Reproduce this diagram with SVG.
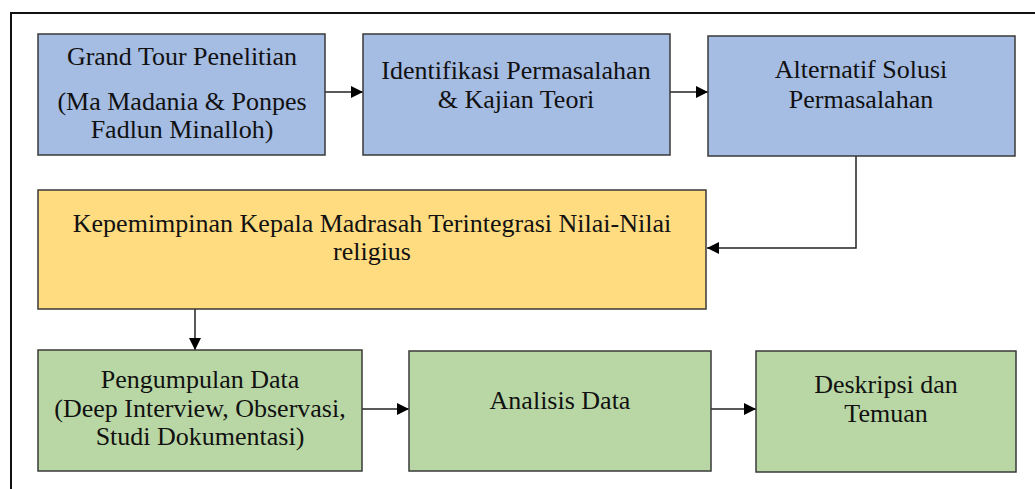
<svg xmlns="http://www.w3.org/2000/svg" width="1035" height="489" viewBox="0 0 1035 489">
<style>
.t{font-family:"Liberation Serif","Times New Roman",serif;font-size:26px;fill:#111;text-anchor:middle}
.b{fill:#A5BCE3;stroke:#3a3a3a;stroke-width:1.5}
.y{fill:#FFDC80;stroke:#3a3a3a;stroke-width:1.5}
.g{fill:#B9D7A5;stroke:#3a3a3a;stroke-width:1.5}
.c{fill:none;stroke:#222;stroke-width:1.5}
</style>
<defs>
<marker id="ah" markerWidth="12" markerHeight="12" viewBox="0 0 12 12" refX="12" refY="6" orient="auto" markerUnits="userSpaceOnUse">
<path d="M0,0 L12,6 L0,12 Z" fill="#000"/>
</marker>
</defs>
<rect x="11" y="13" width="1040" height="500" fill="#fff" stroke="#111" stroke-width="2"/>
<g id="connectors">
<line class="c" x1="325" y1="92" x2="363" y2="92" marker-end="url(#ah)"/>
<line class="c" x1="670" y1="92" x2="708" y2="92" marker-end="url(#ah)"/>
<polyline class="c" points="856,156 856,248 707,248" marker-end="url(#ah)"/>
<line class="c" x1="195" y1="309" x2="195" y2="350" marker-end="url(#ah)"/>
<line class="c" x1="362" y1="409" x2="409" y2="409" marker-end="url(#ah)"/>
<line class="c" x1="711" y1="409" x2="756" y2="409" marker-end="url(#ah)"/>
</g>
<g id="n1">
<rect class="b" x="38" y="34" width="287" height="121"/>
<text class="t" x="182" y="65">Grand Tour Penelitian</text>
<text class="t" x="182" y="110">(Ma Madania &amp; Ponpes</text>
<text class="t" x="182" y="138">Fadlun Minalloh)</text>
</g>
<g id="n2">
<rect class="b" x="363" y="34" width="307" height="121"/>
<text class="t" x="516" y="79">Identifikasi Permasalahan</text>
<text class="t" x="516" y="108">&amp; Kajian Teori</text>
</g>
<g id="n3">
<rect class="b" x="708" y="36" width="307" height="120"/>
<text class="t" x="861" y="78">Alternatif Solusi</text>
<text class="t" x="861" y="108">Permasalahan</text>
</g>
<g id="n4">
<rect class="y" x="38" y="190" width="668" height="119"/>
<text class="t" x="372" y="232">Kepemimpinan Kepala Madrasah Terintegrasi Nilai-Nilai</text>
<text class="t" x="372" y="260">religius</text>
</g>
<g id="n5">
<rect class="g" x="38" y="350" width="324" height="121"/>
<text class="t" x="200" y="388">Pengumpulan Data</text>
<text class="t" x="200" y="417">(Deep Interview, Observasi,</text>
<text class="t" x="200" y="445">Studi Dokumentasi)</text>
</g>
<g id="n6">
<rect class="g" x="409" y="351" width="302" height="120"/>
<text class="t" x="560" y="409">Analisis Data</text>
</g>
<g id="n7">
<rect class="g" x="756" y="351" width="260" height="121"/>
<text class="t" x="886" y="393">Deskripsi dan</text>
<text class="t" x="886" y="422">Temuan</text>
</g>
</svg>
